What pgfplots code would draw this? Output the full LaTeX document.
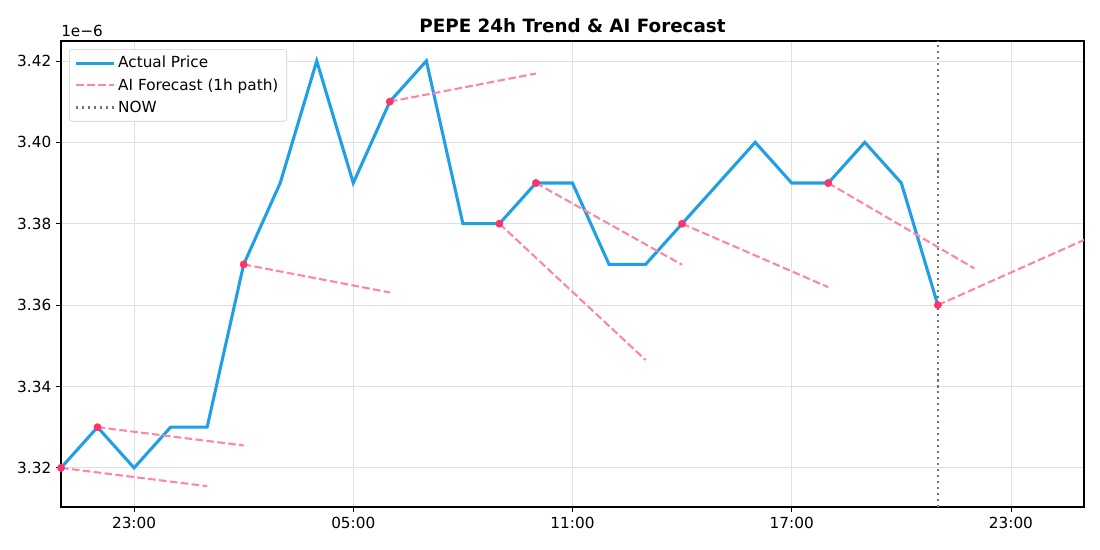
\documentclass[border=0pt]{standalone}
\usepackage{fontspec}
\setmainfont{DejaVu Sans}
\usepackage{pgfplots}
\pgfplotsset{compat=1.18}
\definecolor{actual}{HTML}{1F9FE8}
\definecolor{fc}{HTML}{FF3366}
\colorlet{fcl}{fc!60!white}
\begin{document}
\begin{tikzpicture}
\begin{axis}[
  scale only axis, width=736.6pt, height=335.5pt,
  xmin=21, xmax=49, ymin=3.3104, ymax=3.4249,
  xtick={23,29,35,41,47}, xticklabels={23:00,05:00,11:00,17:00,23:00},
  ytick={3.32,3.34,3.36,3.38,3.40,3.42},
  yticklabel style={/pgf/number format/.cd, fixed, fixed zerofill, precision=2},
  /pgf/number format/assume math mode=true,
  scaled y ticks=false,
  grid=major, major grid style={black!12, line width=0.6pt},
  tick align=outside, tick pos=left,
  major tick length=3.5pt,
  every tick/.style={black, line width=0.6pt},
  axis line style={line width=0.8pt},
  ticklabel style={font=\fontsize{11}{13}\selectfont},
  legend style={at={(rel axis cs:0,1)}, anchor=north west, xshift=5.8pt, yshift=-5.8pt,
    draw=black!20, rounded corners=2pt, font=\fontsize{11}{13}\selectfont,
    row sep=2.2pt, inner xsep=4pt, inner ysep=3pt},
  legend cell align=left,
  legend image code/.code={\draw[#1] (0pt,0pt) -- (24pt,0pt); \path (0pt,0pt) -- (27pt,0pt);},
  fcst/.style={fcl, line width=1.5pt, dash pattern=on 5.5pt off 2.4pt},
]
\addplot[actual, line width=2.2pt, line join=miter] coordinates {
(21,3.32)(22,3.33)(23,3.32)(24,3.33)(25,3.33)(26,3.37)(27,3.39)(28,3.42)(29,3.39)
(30,3.41)(31,3.42)(32,3.38)(33,3.38)(34,3.39)(35,3.39)(36,3.37)(37,3.37)(38,3.38)
(39,3.39)(40,3.40)(41,3.39)(42,3.39)(43,3.40)(44,3.39)(45,3.36)};
\addlegendentry{Actual Price}
\addplot[fcst] coordinates {(21,3.32)(25,3.3155)};
\addlegendentry{AI Forecast (1h path)}
\addplot[forget plot, fcst] coordinates {(22,3.33)(26,3.3255)};
\addplot[forget plot, fcst] coordinates {(26,3.37)(30,3.3631)};
\addplot[forget plot, fcst] coordinates {(30,3.41)(34,3.4169)};
\addplot[forget plot, fcst] coordinates {(33,3.38)(37,3.3465)};
\addplot[forget plot, fcst] coordinates {(34,3.39)(38,3.3699)};
\addplot[forget plot, fcst] coordinates {(38,3.38)(42,3.3644)};
\addplot[forget plot, fcst] coordinates {(42,3.39)(46,3.3690)};
\addplot[forget plot, fcst] coordinates {(45,3.36)(49,3.3760)};
\addplot[black!55, line width=1.6pt, dash pattern=on 1.5pt off 2.8pt] coordinates {(45,3.3104)(45,3.4249)};
\addlegendentry{NOW}
\addplot[forget plot, only marks, mark=*, mark size=2.6pt, fc, mark options={draw=fc, fill=fc}] coordinates {
(21,3.32)(22,3.33)(26,3.37)(30,3.41)(33,3.38)(34,3.39)(38,3.38)(42,3.39)(45,3.36)};
\coordinate (sw) at (rel axis cs:0,0);
\coordinate (ne) at (rel axis cs:1,1);
\coordinate (nw) at (rel axis cs:0,1);
\coordinate (nt) at (rel axis cs:0.5,1);
\end{axis}
\node[anchor=south west, font=\fontsize{11}{13}\selectfont, inner sep=0pt, yshift=3pt] at (nw) {1e−6};
\node[anchor=base, font=\fontsize{13.2}{15}\selectfont\bfseries, inner sep=0pt, yshift=5.8pt] at (nt) {PEPE 24h Trend \& AI Forecast};
\pgfresetboundingbox
\path ([shift={(-43.92pt,-30.96pt)}]sw) rectangle ([shift={(11.52pt,29.52pt)}]ne);
\end{tikzpicture}
\end{document}
